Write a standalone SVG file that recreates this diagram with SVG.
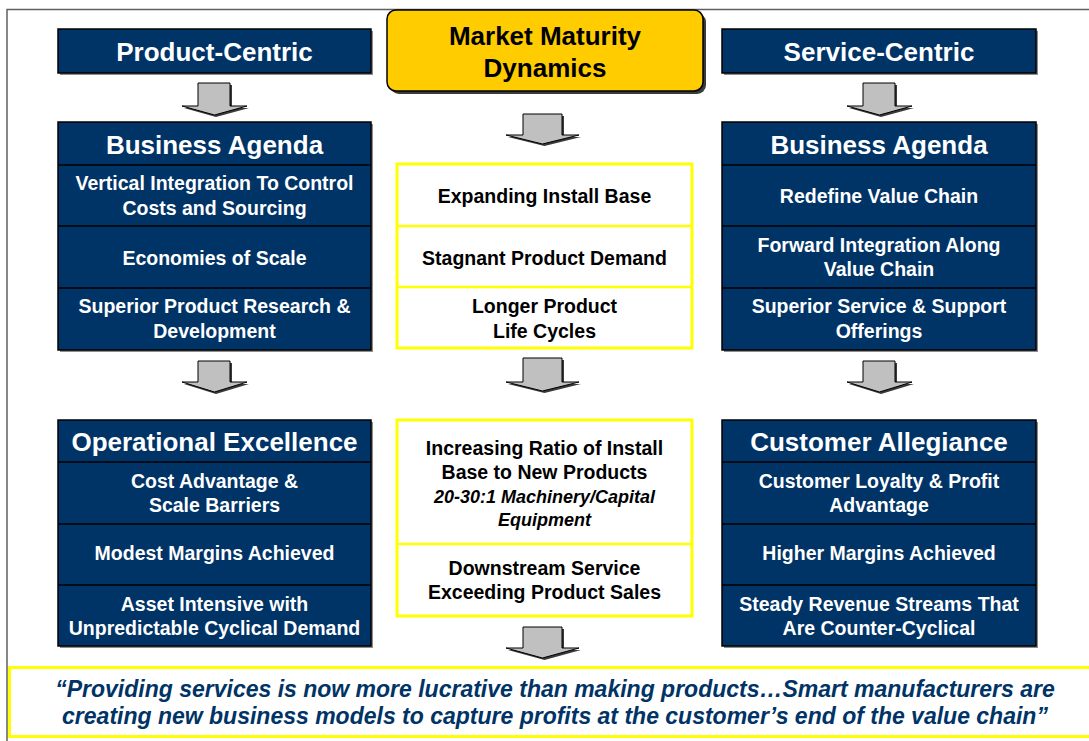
<svg xmlns="http://www.w3.org/2000/svg" width="1089" height="741" viewBox="0 0 1089 741">
  <defs>
    <style>
      .navy { fill: #003366; stroke: #000000; stroke-width: 1.5; }
      .nshadow { fill: #8c8c8c; }
      .div { stroke: #000000; stroke-width: 1.5; }
      .ybox { fill: #ffffff; stroke: #ffff00; stroke-width: 3; }
      .ydiv { stroke: #ffff00; stroke-width: 2.5; }
      .hdr { font-family: "Liberation Sans", Arial, sans-serif; font-weight: bold; font-size: 26px; fill: #ffffff; text-anchor: middle; }
      .row { font-family: "Liberation Sans", Arial, sans-serif; font-weight: bold; font-size: 19.5px; fill: #ffffff; text-anchor: middle; }
      .dark { fill: #000000; }
      .ital { font-family: "Liberation Sans", Arial, sans-serif; font-weight: bold; font-style: italic; font-size: 18px; fill: #000000; text-anchor: middle; }
      .quote { font-family: "Liberation Sans", Arial, sans-serif; font-weight: bold; font-style: italic; font-size: 23px; fill: #003366; text-anchor: middle; }
      .arrow { fill: #c0c0c0; stroke: #000000; stroke-width: 1; stroke-linejoin: miter; }
      .ashadow { fill: #3a3a3a; }
    </style>
  </defs>

  <rect width="1089" height="741" fill="#ffffff"/>
  <!-- page frame -->
  <rect x="7" y="9.5" width="1100" height="760" fill="none" stroke="#606060" stroke-width="1.5"/>

  <!-- left column -->
  <g id="product-centric">
    <rect class="nshadow" x="60" y="31" width="313" height="44"/>
    <rect class="navy" x="58" y="29" width="313" height="44"/>
    <text class="hdr" x="214.5" y="61">Product-Centric</text>
  </g>

  <g id="business-agenda-left">
    <rect class="nshadow" x="60" y="124" width="313" height="228"/>
    <rect class="navy" x="58" y="122" width="313" height="228"/>
    <line class="div" x1="58" y1="165" x2="371" y2="165"/>
    <line class="div" x1="58" y1="226" x2="371" y2="226"/>
    <line class="div" x1="58" y1="288" x2="371" y2="288"/>
    <text class="hdr" x="214.5" y="154">Business Agenda</text>
    <text class="row" x="214.5" y="190">Vertical Integration To Control</text>
    <text class="row" x="214.5" y="215">Costs and Sourcing</text>
    <text class="row" x="214.5" y="265">Economies of Scale</text>
    <text class="row" x="214.5" y="313">Superior Product Research &amp;</text>
    <text class="row" x="214.5" y="338">Development</text>
  </g>

  <g id="operational-excellence">
    <rect class="nshadow" x="60" y="422" width="313" height="226"/>
    <rect class="navy" x="58" y="420" width="313" height="226"/>
    <line class="div" x1="58" y1="462" x2="371" y2="462"/>
    <line class="div" x1="58" y1="524" x2="371" y2="524"/>
    <line class="div" x1="58" y1="585" x2="371" y2="585"/>
    <text class="hdr" x="214.5" y="451">Operational Excellence</text>
    <text class="row" x="214.5" y="488">Cost Advantage &amp;</text>
    <text class="row" x="214.5" y="512">Scale Barriers</text>
    <text class="row" x="214.5" y="560">Modest Margins Achieved</text>
    <text class="row" x="214.5" y="611">Asset Intensive with</text>
    <text class="row" x="214.5" y="635">Unpredictable Cyclical Demand</text>
  </g>

  <!-- centre column -->
  <g id="market-maturity">
    <rect x="390" y="13" width="316" height="81" rx="9" fill="#3a3a3a"/>
    <rect x="387" y="10" width="316" height="81" rx="9" fill="#ffcc00" stroke="#000000" stroke-width="1.5"/>
    <text class="hdr dark" x="545" y="45">Market Maturity</text>
    <text class="hdr dark" x="545" y="77">Dynamics</text>
  </g>

  <g id="market-drivers">
    <rect class="ybox" x="397" y="164" width="295" height="184"/>
    <line class="ydiv" x1="397" y1="226" x2="692" y2="226"/>
    <line class="ydiv" x1="397" y1="287" x2="692" y2="287"/>
    <text class="row dark" x="544.5" y="203">Expanding Install Base</text>
    <text class="row dark" x="544.5" y="265">Stagnant Product Demand</text>
    <text class="row dark" x="544.5" y="313">Longer Product</text>
    <text class="row dark" x="544.5" y="338">Life Cycles</text>
  </g>

  <g id="install-base">
    <rect class="ybox" x="397" y="420" width="295" height="196"/>
    <line class="ydiv" x1="397" y1="544" x2="692" y2="544"/>
    <text class="row dark" x="544.5" y="455">Increasing Ratio of Install</text>
    <text class="row dark" x="544.5" y="479">Base to New Products</text>
    <text class="ital" x="544.5" y="502.5">20-30:1 Machinery/Capital</text>
    <text class="ital" x="544.5" y="525.5">Equipment</text>
    <text class="row dark" x="544.5" y="575">Downstream Service</text>
    <text class="row dark" x="544.5" y="599">Exceeding Product Sales</text>
  </g>

  <!-- right column -->
  <g id="service-centric">
    <rect class="nshadow" x="724" y="31" width="314" height="44"/>
    <rect class="navy" x="722" y="29" width="314" height="44"/>
    <text class="hdr" x="879" y="61">Service-Centric</text>
  </g>

  <g id="business-agenda-right">
    <rect class="nshadow" x="724" y="124" width="314" height="228"/>
    <rect class="navy" x="722" y="122" width="314" height="228"/>
    <line class="div" x1="722" y1="165" x2="1036" y2="165"/>
    <line class="div" x1="722" y1="226" x2="1036" y2="226"/>
    <line class="div" x1="722" y1="288" x2="1036" y2="288"/>
    <text class="hdr" x="879" y="154">Business Agenda</text>
    <text class="row" x="879" y="203">Redefine Value Chain</text>
    <text class="row" x="879" y="252">Forward Integration Along</text>
    <text class="row" x="879" y="276">Value Chain</text>
    <text class="row" x="879" y="313">Superior Service &amp; Support</text>
    <text class="row" x="879" y="338">Offerings</text>
  </g>

  <g id="customer-allegiance">
    <rect class="nshadow" x="724" y="422" width="314" height="226"/>
    <rect class="navy" x="722" y="420" width="314" height="226"/>
    <line class="div" x1="722" y1="462" x2="1036" y2="462"/>
    <line class="div" x1="722" y1="524" x2="1036" y2="524"/>
    <line class="div" x1="722" y1="585" x2="1036" y2="585"/>
    <text class="hdr" x="879" y="451">Customer Allegiance</text>
    <text class="row" x="879" y="488">Customer Loyalty &amp; Profit</text>
    <text class="row" x="879" y="512">Advantage</text>
    <text class="row" x="879" y="560">Higher Margins Achieved</text>
    <text class="row" x="879" y="611">Steady Revenue Streams That</text>
    <text class="row" x="879" y="635">Are Counter-Cyclical</text>
  </g>

  <!-- conclusion banner -->
  <g id="quote">
    <rect class="ybox" x="9.5" y="667.5" width="1090" height="69"/>
    <text class="quote" x="555" y="697">“Providing services is now more lucrative than making products…Smart manufacturers are</text>
    <text class="quote" x="555" y="724">creating new business models to capture profits at the customer’s end of the value chain”</text>
  </g>

  <!-- block arrows: shadow first, then the arrow body -->
  <g id="connectors">
    <!-- left column -->
    <polygon class="ashadow" points="200,85 232,85 232,108 249,108 216,117 184,108 200,108"/>
    <polygon class="arrow" points="198,83 230,83 230,106 247,106 214.5,115 182,106 198,106"/>
    <polygon class="ashadow" points="200,363 232,363 232,384 249,384 216,394 184,384 200,384"/>
    <polygon class="arrow" points="198,361 230,361 230,382 247,382 214.5,392 182,382 198,382"/>
    <!-- centre column -->
    <polygon class="ashadow" points="525,116 564,116 564,137 581,137 544.5,146 508,137 525,137"/>
    <polygon class="arrow" points="523,114 562,114 562,135 579,135 542.5,144 506,135 523,135"/>
    <polygon class="ashadow" points="525,360 564,360 564,384 581,384 544.5,393 508,384 525,384"/>
    <polygon class="arrow" points="523,358 562,358 562,382 579,382 542.5,391 506,382 523,382"/>
    <polygon class="ashadow" points="525,629 564,629 564,650 581,650 544.5,660 508,650 525,650"/>
    <polygon class="arrow" points="523,627 562,627 562,648 579,648 542.5,658 506,648 523,648"/>
    <!-- right column -->
    <polygon class="ashadow" points="865,85 897,85 897,108 914,108 881,117 849,108 865,108"/>
    <polygon class="arrow" points="863,83 895,83 895,106 912,106 879.5,115 847,106 863,106"/>
    <polygon class="ashadow" points="865,363 897,363 897,384 914,384 881,394 849,384 865,384"/>
    <polygon class="arrow" points="863,361 895,361 895,382 912,382 879.5,392 847,382 863,382"/>
  </g>
</svg>
